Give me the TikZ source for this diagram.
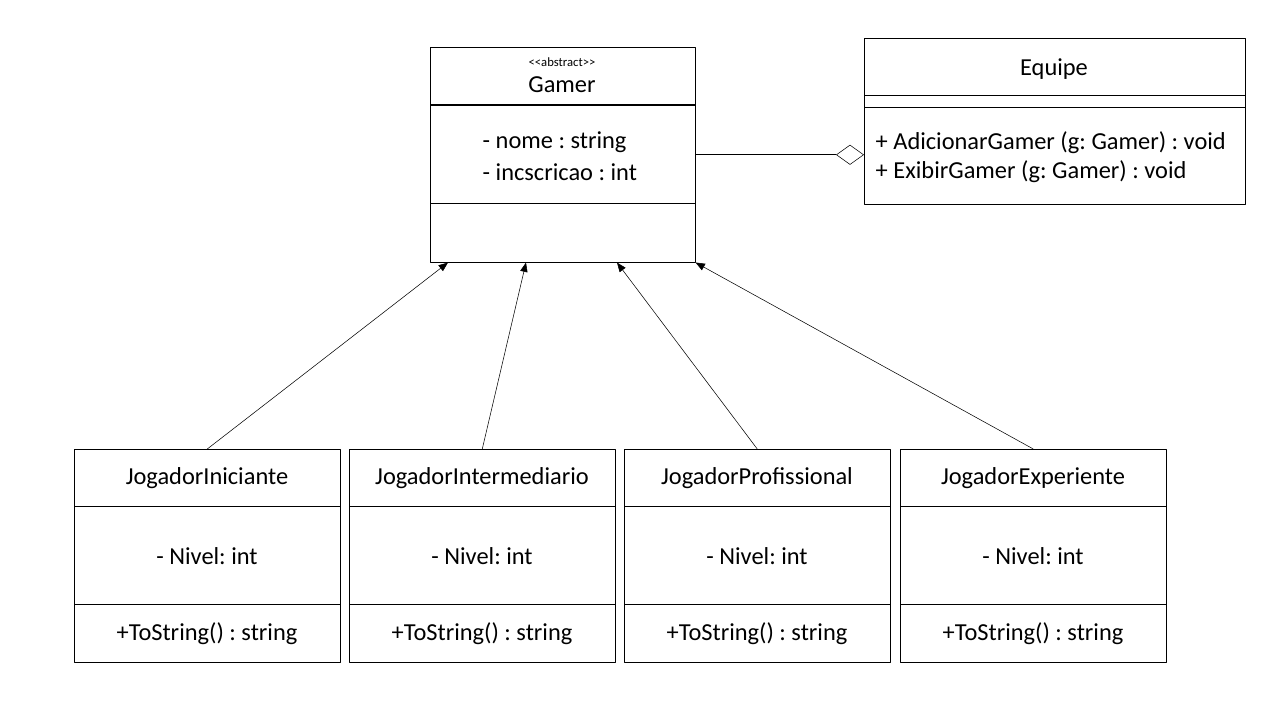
\documentclass[tikz,border=0pt]{standalone}
\usepackage{fontspec}
\setmainfont{Carlito}
\usetikzlibrary{arrows.meta,calc}
\frenchspacing
\tikzset{
  classe/.style={draw, thin, anchor=north west, inner sep=0pt},
  heranca/.style={-{Triangle[length=7pt,width=5.5pt]}, thin},
}
\begin{document}
\begin{tikzpicture}[x=0.75pt, y=-0.75pt, font=\fontsize{18.3}{22}\selectfont, line join=round]
		\useasboundingbox[fill=white] (0,0) rectangle (1280,720);
		% classe abstrata
		\node (gamer) [classe, minimum width=198.75pt, minimum height=161.25pt] at (430,47) {};
		\draw[line width=1.2pt] (430,105) -- (695,105);
		\draw[thin] (430,203) -- (695,203);
		\node at (562,62) {\fontsize{9.5}{10}\selectfont {<}{<}abstract{>}{>}};
		\node at (562,85) {Gamer};
		\node[anchor=west] at (478,142) {- nome : string};
		\node[anchor=west] at (478,172) {- incscricao : int};
		% equipe
		\node (equipe) [classe, minimum width=285.75pt, minimum height=124.5pt] at (864,38) {};
		\draw[thin] (864,95) -- (1245,95) (864,107) -- (1245,107);
		\node at (1054,69) {Equipe};
		\node[anchor=west] at (871,143) {+ AdicionarGamer (g: Gamer) : void};
		\node[anchor=west] at (871,172) {+ ExibirGamer (g: Gamer) : void};
		\draw[thin, {Diamond[open, length=21pt, width=15pt]}-] (gamer.east -| equipe.west) -- (gamer.east);
		% jogadores
		\foreach \x/\n/\nome in {74/ji/JogadorIniciante, 349/jm/JogadorIntermediario, 624/jp/JogadorProfissional, 900/je/JogadorExperiente}{
			\node (\n) [classe, minimum width=199.5pt, minimum height=159.75pt] at (\x,449) {};
			\draw[thin] (\x,506) -- ++(266,0) (\x,604) -- ++(266,0);
			\node at (\x+133,478) {\nome};
			\node at (\x+133,556) {- Nivel: int};
			\node at (\x+133,634) {+ToString() : string};
		}
		\draw[heranca] (ji.north) -- ($(gamer.south west)+(18,0)$);
		\draw[heranca] (jm.north) -- ($(gamer.south west)+(96,0)$);
		\draw[heranca] (jp.north) -- ($(gamer.south west)+(187,0)$);
		\draw[heranca] (je.north) -- (gamer.south east);
\end{tikzpicture}
\end{document}
